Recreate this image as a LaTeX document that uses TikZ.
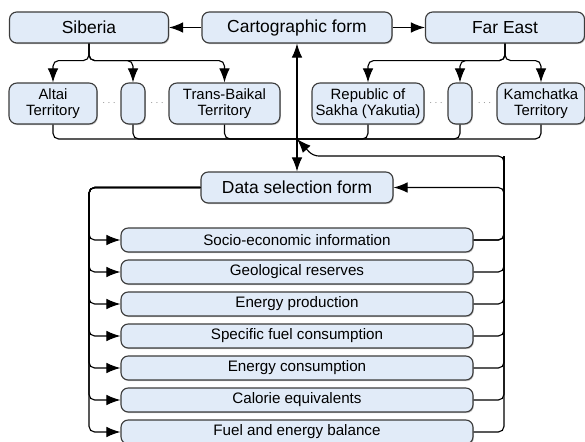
\documentclass[tikz,border=0pt]{standalone}
\usepackage{fontspec}
\setmainfont{Liberation Sans}
\usetikzlibrary{shapes.geometric, arrows, arrows.meta, positioning, shadows}
\definecolor{boxfill}{RGB}{225,235,248}
\definecolor{boxline}{RGB}{60,60,60}
\tikzstyle{arrow} = [thick,->,>={Latex[length=10pt,width=7.5pt]}]
\tikzstyle{line} = [thick, rounded corners=4pt]
\tikzstyle{form} = [rectangle, rounded corners=1.8mm, minimum width=4.75cm, minimum height=0.775cm, text centered, draw=boxline, fill=boxfill, thick, font=\fontsize{12.4}{14}\selectfont, drop shadow={shadow xshift=0.6pt, shadow yshift=-0.8pt, fill=black!45}]
\tikzstyle{region} = [form, minimum width=3.975cm]
\tikzstyle{territory} = [rectangle, rounded corners=2mm, minimum height=1.025cm, inner xsep=1pt, align=center, draw=boxline, fill=boxfill, thick, font=\fontsize{10.6}{11}\selectfont, drop shadow={shadow xshift=0.6pt, shadow yshift=-0.8pt, fill=black!45}]
\tikzstyle{datatab} = [rectangle, rounded corners=1.8mm, minimum width=8.8cm, minimum height=0.6cm, text centered, draw=boxline, fill=boxfill, thick, font=\fontsize{10.8}{12}\selectfont, drop shadow={shadow xshift=0.6pt, shadow yshift=-0.8pt, fill=black!45}]
\tikzstyle{gap} = [text=black!45, font=\scriptsize, inner sep=0pt]

\begin{document}
\begin{tikzpicture}[node distance=0.8cm]
\useasboundingbox (0,0) rectangle (14.625,-11.05);
% Top row of forms
\node (cart) [form] at (7.425,-0.6875) {Cartographic form};
\node (siberia) [region, left of=cart, node distance=5.2cm] {Siberia};
\node (fareast) [region, right of=cart, node distance=5.2cm] {Far East};

% Territories of Siberia
\node (altai) [territory, minimum width=2.2cm] at (1.325,-2.5875) {Altai\\Territory};
\node (sibmid) [territory, minimum width=0.6cm] at (3.325,-2.5875) {};
\node (transbaikal) [territory, minimum width=2.775cm] at (5.6125,-2.5875) {Trans-Baikal\\Territory};
\node (gap1) [gap] at (2.725,-2.5875) {$\cdots$};
\node (gap2) [gap] at (3.925,-2.5875) {$\cdots$};

% Territories of the Far East
\node (sakha) [territory, minimum width=2.8cm] at (9.2,-2.5875) {Republic of\\Sakha (Yakutia)};
\node (eastmid) [territory, minimum width=0.6cm] at (11.5,-2.5875) {};
\node (kamchatka) [territory, minimum width=2.2cm] at (13.525,-2.5875) {Kamchatka\\Territory};
\node (gap3) [gap] at (10.9,-2.5875) {$\cdots$};
\node (gap4) [gap] at (12.1125,-2.5875) {$\cdots$};

% Data selection and its tabs
\node (datasel) [form, minimum width=4.8cm] at (7.425,-4.6875) {Data selection form};
\node (socio) [datatab, below of=datasel, node distance=1.3125cm] {Socio-economic information};
\node (geology) [datatab, below of=socio] {Geological reserves};
\node (production) [datatab, below of=geology] {Energy production};
\node (specific) [datatab, below of=production] {Specific fuel consumption};
\node (consumption) [datatab, below of=specific] {Energy consumption};
\node (calorie) [datatab, below of=consumption] {Calorie equivalents};
\node (balance) [datatab, below of=calorie] {Fuel and energy balance};

% Junction points
\coordinate (sibfork) at ([yshift=-0.425cm]siberia.south);
\coordinate (eastfork) at ([yshift=-0.425cm]fareast.south);
\coordinate (hub) at (7.425,-3.475);
\coordinate (rtop) at (12.6,-3.9);
\coordinate (lcol) at (2.225,-4.6875);

% Top row arrows
\draw [arrow] (cart) -- (siberia);
\draw [arrow] (cart) -- (fareast);
\draw [arrow, <->] (datasel.north) -- (cart.south);

% Branches to territories
\draw [arrow, line] (siberia.south) -- (sibfork) -| (altai.north);
\draw [arrow, line] (siberia.south) -- (sibfork) -| (sibmid.north);
\draw [arrow, line] (siberia.south) -- (sibfork) -| (transbaikal.north);
\draw [arrow, line] (fareast.south) -- (eastfork) -| (sakha.north);
\draw [arrow, line] (fareast.south) -- (eastfork) -| (eastmid.north);
\draw [arrow, line] (fareast.south) -- (eastfork) -| (kamchatka.north);

% Bus back to the hub
\draw [line] (altai.south) |- (hub);
\draw [line] (sibmid.south) |- (hub);
\draw [line] (transbaikal.south) |- (hub);
\draw [line] (sakha.south) |- (hub);
\draw [line] (eastmid.south) |- (hub);
\draw [line] (kamchatka.south) |- (hub);

% Left side: form to tabs
\draw [arrow, line] (datasel.west) -| (lcol |- socio.west) -- (socio.west);
\draw [arrow, line] (datasel.west) -| (lcol |- geology.west) -- (geology.west);
\draw [arrow, line] (datasel.west) -| (lcol |- production.west) -- (production.west);
\draw [arrow, line] (datasel.west) -| (lcol |- specific.west) -- (specific.west);
\draw [arrow, line] (datasel.west) -| (lcol |- consumption.west) -- (consumption.west);
\draw [arrow, line] (datasel.west) -| (lcol |- calorie.west) -- (calorie.west);
\draw [arrow, line] (datasel.west) -| (lcol |- balance.west) -- (balance.west);

% Right side: tabs back to form and map
\draw [arrow, line] (socio.east) -| (rtop |- datasel.east) -- (datasel.east);
\draw [line] (socio.east) -| (rtop);
\draw [line] (geology.east) -| (rtop);
\draw [line] (production.east) -| (rtop);
\draw [line] (specific.east) -| (rtop);
\draw [line] (consumption.east) -| (rtop);
\draw [line] (calorie.east) -| (rtop);
\draw [arrow, line] (balance.east) -| (rtop) -- ([xshift=0.4cm]hub |- rtop) -- (hub);

\end{tikzpicture}
\end{document}
